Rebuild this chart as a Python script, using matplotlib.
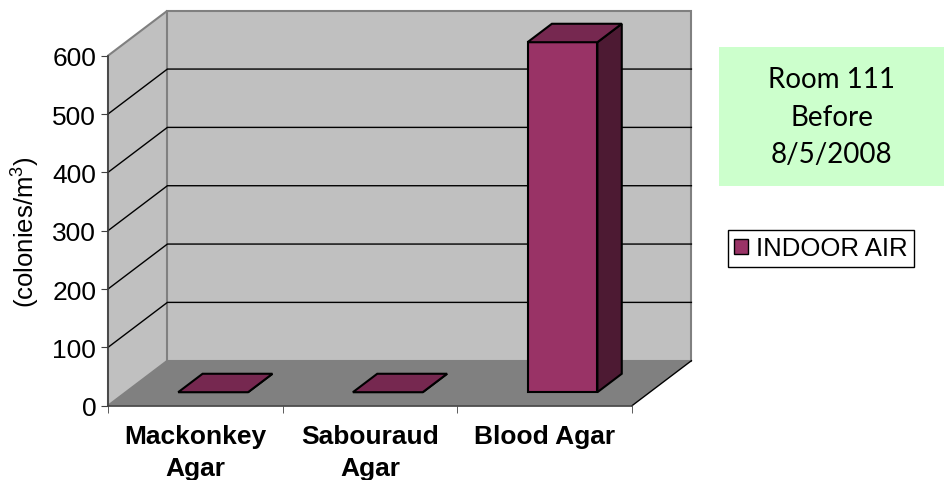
import matplotlib.pyplot as plt
from matplotlib.patches import Polygon, Rectangle

plt.rcParams['font.family'] = ['Liberation Sans', 'DejaVu Sans']
plt.rcParams['mathtext.fontset'] = 'custom'
plt.rcParams['mathtext.rm'] = 'Liberation Sans'
plt.rcParams['mathtext.it'] = 'Liberation Sans'

categories = ["Mackonkey\nAgar", "Sabouraud\nAgar", "Blood Agar"]
indoor_air = [0, 0, 600]
y_ticks = [0, 100, 200, 300, 400, 500, 600]
series_name = "INDOOR AIR"
note = "Room 111\nBefore\n8/5/2008"

# oblique depth of the 3d box: x in category units, y in value units
DX, DY = 0.34, 77.1
bar_w = 0.4
d0, d1 = 0.30, 0.71

front_c = "#993366"
top_c = "#762850"
side_c = "#4D1A33"

fig = plt.figure(figsize=(9.45, 4.81), dpi=100)
ax = fig.add_axes([108 / 945, 74.3 / 481, 524 / 945, 350 / 481])
ax.set_xlim(0, 3)
ax.set_ylim(0, 600)
ax.patch.set_visible(False)


def poly(pts, fc, ec, lw, z):
    ax.add_patch(Polygon(pts, closed=True, facecolor=fc, edgecolor=ec,
                         linewidth=lw, zorder=z, clip_on=False,
                         joinstyle='miter'))


n = len(categories)
top = y_ticks[-1]

# walls and floor
poly([(0, 0), (0, top), (DX, top + DY), (DX, DY)], "#C0C0C0", "#808080", 1.5, 1)
poly([(DX, DY), (DX, top + DY), (n + DX, top + DY), (n + DX, DY)],
     "#C0C0C0", "#808080", 1.5, 1)
poly([(0, 0), (n, 0), (n + DX, DY), (DX, DY)], "#808080", "none", 0, 1)
ax.plot([n, n + DX], [0, DY], color="black", lw=1, clip_on=False, zorder=2)

# gridlines on the side wall and the back wall
for v in y_ticks[1:-1]:
    ax.plot([0, DX, n + DX], [v, v + DY, v + DY], color="black", lw=1,
            clip_on=False, zorder=2)

# 3d bars
for i, v in enumerate(indoor_air):
    x0 = i + 0.5 - bar_w / 2 + d0 * DX
    x1 = x0 + bar_w
    y0 = d0 * DY
    ddx = (d1 - d0) * DX
    ddy = (d1 - d0) * DY
    poly([(x0, y0), (x1, y0), (x1, y0 + v), (x0, y0 + v)], front_c, "black", 1.5, 3)
    poly([(x1, y0), (x1 + ddx, y0 + ddy), (x1 + ddx, y0 + v + ddy), (x1, y0 + v)],
         side_c, "black", 1.5, 3)
    poly([(x0, y0 + v), (x1, y0 + v), (x1 + ddx, y0 + v + ddy), (x0 + ddx, y0 + v + ddy)],
         top_c, "black", 1.5, 3)

ax.spines['top'].set_visible(False)
ax.spines['right'].set_visible(False)
for s in ['left', 'bottom']:
    ax.spines[s].set_color('#404040')
    ax.spines[s].set_linewidth(1.2)

ax.set_yticks(y_ticks)
ax.tick_params(axis='y', length=5, color='#404040', labelsize=19)
ax.set_xticks([i + 0.5 for i in range(n)])
ax.set_xticklabels(categories, fontsize=19, fontweight='bold', linespacing=1.45)
ax.set_xticks(range(n + 1), minor=True)
ax.tick_params(axis='x', which='major', length=0, pad=13)
ax.tick_params(axis='x', which='minor', length=5, color='#404040')

ax.set_ylabel("(colonies/m$^3$)", fontsize=18.5, labelpad=7)

handle = Rectangle((0, 0), 1, 1, facecolor=front_c, edgecolor='black', lw=1)
leg = fig.legend([handle], [series_name], loc='upper left',
                 bbox_to_anchor=(727.7 / 945, 1 - 231 / 481),
                 fancybox=False, edgecolor='black', framealpha=1, fontsize=18.5,
                 handlelength=0.55, handleheight=0.55, handletextpad=0.3,
                 borderpad=0.25, borderaxespad=0)

# green note box
fig.add_artist(Rectangle((719 / 945, 1 - 187.3 / 481), 226 / 945, 139.6 / 481,
                         transform=fig.transFigure, facecolor='#CCFFCC',
                         edgecolor='none'))
fig.text(831.7 / 945, 1 - 117.5 / 481, note, ha='center', va='center',
         fontsize=20, family='Lato', linespacing=1.55)

fig.savefig('out.png', dpi=100)
